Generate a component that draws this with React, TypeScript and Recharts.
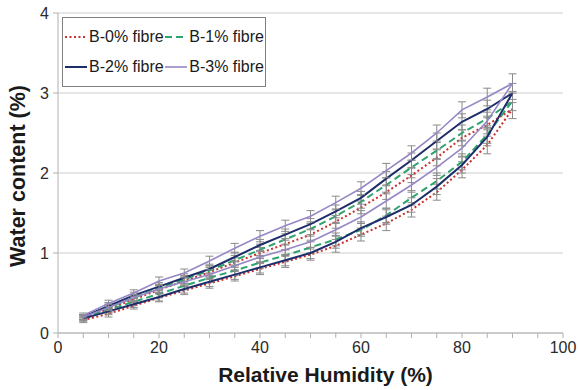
import React from 'react';
import { LineChart, Line, XAxis, YAxis, CartesianGrid, ErrorBar, Legend } from 'recharts';

const humidity = [5, 10, 15, 20, 25, 30, 35, 40, 45, 50, 55, 60, 65, 70, 75, 80, 85, 90];

const b0Ads = [0.16, 0.24, 0.34, 0.44, 0.53, 0.62, 0.71, 0.8, 0.89, 0.98, 1.09, 1.23, 1.37, 1.54, 1.76, 2.04, 2.35, 2.8];
const b0Des = [0.18, 0.3, 0.42, 0.54, 0.65, 0.76, 0.88, 1.0, 1.11, 1.23, 1.39, 1.57, 1.76, 1.97, 2.19, 2.44, 2.6, 2.8];
const b1Ads = [0.19, 0.29, 0.39, 0.49, 0.59, 0.69, 0.78, 0.88, 0.97, 1.07, 1.17, 1.29, 1.47, 1.69, 1.9, 2.14, 2.48, 2.9];
const b1Des = [0.2, 0.32, 0.44, 0.56, 0.67, 0.78, 0.91, 1.04, 1.17, 1.3, 1.46, 1.64, 1.85, 2.07, 2.28, 2.5, 2.68, 2.9];
const b2Ads = [0.18, 0.27, 0.36, 0.45, 0.55, 0.64, 0.73, 0.82, 0.91, 1.0, 1.14, 1.31, 1.45, 1.6, 1.83, 2.1, 2.45, 3.0];
const b2Des = [0.2, 0.34, 0.47, 0.58, 0.69, 0.8, 0.95, 1.1, 1.23, 1.36, 1.52, 1.69, 1.93, 2.16, 2.4, 2.64, 2.8, 3.0];
const b3Ads = [0.2, 0.32, 0.44, 0.55, 0.64, 0.73, 0.84, 0.95, 1.04, 1.14, 1.29, 1.45, 1.65, 1.85, 2.07, 2.31, 2.65, 3.12];
const b3Des = [0.22, 0.37, 0.5, 0.65, 0.75, 0.9, 1.06, 1.21, 1.34, 1.46, 1.63, 1.81, 2.03, 2.25, 2.5, 2.79, 2.95, 3.12];

const errors = [0.03, 0.04, 0.04, 0.05, 0.05, 0.06, 0.06, 0.07, 0.07, 0.07, 0.08, 0.08, 0.09, 0.09, 0.1, 0.1, 0.11, 0.12];

const xTicks = [0, 5, 10, 15, 20, 25, 30, 35, 40, 45, 50, 55, 60, 65, 70, 75, 80, 85, 90, 95, 100];
const xLabels = [0, 20, 40, 60, 80, 100];
const yTicks = [0, 1, 2, 3, 4];

const seriesNames = ['B-0% fibre', 'B-1% fibre', 'B-2% fibre', 'B-3% fibre'];

function loop(ads: number[], des: number[]) {
  const pts: { x: number; y: number; err: number }[] = [];
  humidity.forEach((h, i) => pts.push({ x: h, y: ads[i], err: errors[i] }));
  for (let i = humidity.length - 2; i >= 0; i--) {
    pts.push({ x: humidity[i], y: des[i], err: errors[i] });
  }
  return pts;
}

const styles = [
  { color: '#c8302c', width: 2, dash: '2 2.5' },
  { color: '#2ea36e', width: 2, dash: '7 4' },
  { color: '#1e2d6b', width: 2, dash: undefined },
  { color: '#9787c6', width: 1.6, dash: undefined },
];

const loops = [loop(b0Ads, b0Des), loop(b1Ads, b1Des), loop(b2Ads, b2Des), loop(b3Ads, b3Des)];

const FONT = '"Liberation Sans", Arial, sans-serif';

function LegendBox() {
  const item = (i: number) => (
    <div style={{ display: 'flex', alignItems: 'center', width: i % 2 === 0 ? 102 : 100 }}>
      <svg width={24} height={10}>
        <line x1={1} y1={5} x2={23} y2={5} stroke={styles[i].color} strokeWidth={styles[i].width}
          strokeDasharray={styles[i].dash} />
      </svg>
      <span style={{ marginLeft: 1, whiteSpace: 'nowrap' }}>{seriesNames[i]}</span>
    </div>
  );
  return (
    <div style={{
      border: '1px solid #808080', background: '#fff', fontFamily: FONT, fontSize: 16, color: '#1a1a1a',
      padding: '4px 1px 4px 1px', width: 204, boxSizing: 'border-box', height: 70,
      display: 'flex', flexDirection: 'column', justifyContent: 'space-around'
    }}>
      <div style={{ display: 'flex' }}>{item(0)}{item(1)}</div>
      <div style={{ display: 'flex' }}>{item(2)}{item(3)}</div>
    </div>
  );
}

export default function App() {
  return (
    <div style={{ position: 'absolute', left: 0, top: 0, width: 578, height: 390, background: '#fff' }}>
      <LineChart width={578} height={390} margin={{ top: 13, right: 15, bottom: 0, left: 0 }}>
        <CartesianGrid vertical={false} stroke="#cdcdcd" />
        <XAxis type="number" dataKey="x" domain={[0, 100]} ticks={xTicks} interval={0}
          tickFormatter={(v: number) => (xLabels.includes(v) ? String(v) : '')}
          height={57} stroke="#b0b0b0" tickSize={5} tickMargin={4}
          tick={{ fill: '#2a2a2a', fontSize: 16, fontFamily: FONT }}
          label={{ value: 'Relative Humidity (%)', position: 'insideBottom', offset: 8, dx: 15,
            style: { fontFamily: FONT, fontSize: 21, fontWeight: 'bold', fill: '#1a1a1a' } }} />
        <YAxis type="number" domain={[0, 4]} ticks={yTicks} width={58} stroke="#b0b0b0" tickSize={5} tickMargin={4}
          tick={{ fill: '#2a2a2a', fontSize: 16, fontFamily: FONT }}
          label={{ value: 'Water content (%)', angle: -90, position: 'insideLeft', offset: 17, dy: 3,
            style: { fontFamily: FONT, fontSize: 21.5, fontWeight: 'bold', fill: '#1a1a1a', textAnchor: 'middle' } }} />
        {loops.map((d, i) => (
          <Line key={seriesNames[i]} data={d} dataKey="y" name={seriesNames[i]} type="linear"
            stroke={styles[i].color} strokeWidth={styles[i].width} strokeDasharray={styles[i].dash}
            dot={false} activeDot={false} isAnimationActive={false}>
            <ErrorBar dataKey="err" direction="y" width={4} stroke="#8a8a8a" strokeWidth={1} />
          </Line>
        ))}
        <Legend verticalAlign="middle" align="center" layout="horizontal"
          wrapperStyle={{ left: 62, top: 17, width: 204, height: 70 }}
          content={() => <LegendBox />} />
      </LineChart>
    </div>
  );
}
